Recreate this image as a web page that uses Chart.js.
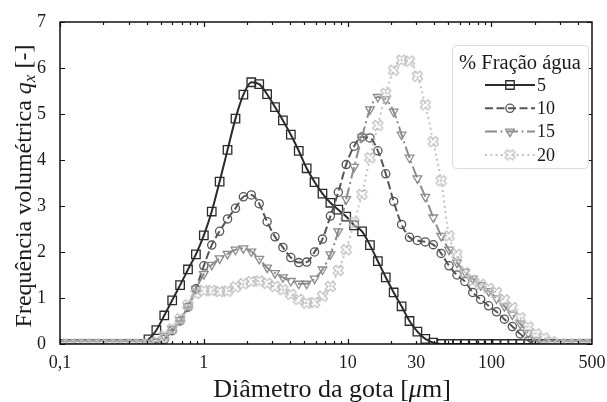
<!DOCTYPE html>
<html>
<head>
<meta charset="utf-8">
<script src="https://cdn.jsdelivr.net/npm/chart.js@4.4.0/dist/chart.umd.min.js"></script>
<style>
  body { margin: 0; background: #fff; }
  #wrap { width: 607px; height: 402px; }
</style>
</head>
<body>
<div id="wrap"><canvas id="grafico" width="607" height="402"></canvas></div>
<script>
// diâmetro da gota [µm]
const diametros = [0.1023, 0.1161, 0.1318, 0.1496, 0.1698, 0.1928, 0.2188, 0.2483, 0.2818, 0.3199,
    0.3631, 0.4121, 0.4677, 0.5309, 0.6026, 0.6839, 0.7762, 0.8810, 1.000, 1.135,
    1.288, 1.462, 1.660, 1.884, 2.138, 2.427, 2.754, 3.126, 3.548, 4.027,
    4.571, 5.188, 5.888, 6.683, 7.586, 8.610, 9.772, 11.09, 12.59, 14.29,
    16.22, 18.41, 20.89, 23.71, 26.92, 30.55, 34.67, 39.36, 44.67, 50.70,
    57.54, 65.31, 74.13, 84.14, 95.50, 108.4, 123.0, 139.6, 158.5, 179.9,
    204.2, 231.7, 263.0, 298.5, 338.8, 384.6, 436.5, 495.5];

// frequência volumétrica q_x por fração de água
const agua5 = [0, 0, 0, 0, 0, 0, 0, 0, 0, 0,
    0, 0.1, 0.3, 0.62, 0.95, 1.28, 1.62, 1.95, 2.36, 2.88,
    3.53, 4.22, 4.90, 5.42, 5.69, 5.65, 5.43, 5.15, 4.86, 4.55,
    4.2, 3.82, 3.52, 3.27, 3.07, 2.92, 2.77, 2.58, 2.45, 2.15,
    1.80, 1.45, 1.12, 0.82, 0.50, 0.27, 0.11, 0.03, 0, 0,
    0, 0, 0, 0, 0, 0, 0, 0, 0, 0,
    0, 0, 0, 0, 0, 0, 0, 0];
const agua10 = [0, 0, 0, 0, 0, 0, 0, 0, 0, 0,
    0, 0, 0.02, 0.1, 0.29, 0.5, 0.8, 1.2, 1.7, 2.15,
    2.45, 2.72, 2.95, 3.2, 3.24, 3.05, 2.66, 2.33, 2.10, 1.88,
    1.77, 1.78, 2.0, 2.28, 2.78, 3.3, 3.9, 4.3, 4.5, 4.48,
    4.2, 3.7, 3.1, 2.6, 2.32, 2.25, 2.22, 2.16, 1.97, 1.7,
    1.5, 1.36, 1.12, 0.97, 0.83, 0.70, 0.54, 0.38, 0.22, 0.07,
    0, 0, 0, 0, 0, 0, 0, 0];
const agua15 = [0, 0, 0, 0, 0, 0, 0, 0, 0, 0,
    0, 0, 0.05, 0.17, 0.33, 0.52, 0.82, 1.2, 1.52, 1.72,
    1.86, 1.96, 2.05, 2.08, 2.01, 1.85, 1.66, 1.54, 1.45, 1.37,
    1.31, 1.31, 1.42, 1.62, 1.95, 2.45, 3.15, 3.85, 4.5, 5.1,
    5.37, 5.32, 5.05, 4.55, 4.05, 3.6, 3.2, 2.75, 2.35, 2.05,
    1.77, 1.57, 1.42, 1.28, 1.15, 0.99, 0.82, 0.64, 0.44, 0.24,
    0.08, 0, 0, 0, 0, 0, 0, 0];
const agua20 = [0, 0, 0, 0, 0, 0, 0, 0, 0, 0,
    0, 0, 0.05, 0.18, 0.33, 0.55, 0.85, 1.1, 1.16, 1.16,
    1.14, 1.15, 1.24, 1.31, 1.36, 1.37, 1.32, 1.25, 1.18, 1.08,
    0.97, 0.89, 0.9, 1.04, 1.25, 1.6, 2.05, 2.65, 3.25, 4.05,
    4.75, 5.45, 5.95, 6.17, 6.15, 5.82, 5.2, 4.4, 3.55, 2.35,
    1.95, 1.55, 1.38, 1.3, 1.21, 1.12, 0.96, 0.79, 0.57, 0.37,
    0.22, 0.13, 0.05, 0, 0, 0, 0, 0];

const rotulosSerie = ["5", "10", "15", "20"];
const rotulosX = [0.1, 1, 10, 30, 100, 500];
const ticksMaioresX = [0.1, 1, 10, 100];
const ticksMenoresX = [0.2, 0.3, 0.4, 0.5, 0.6, 0.7, 0.8, 0.9, 2, 3, 4, 5, 6, 7, 8, 9,
    20, 30, 40, 50, 60, 70, 80, 90, 200, 300, 400];
const ticksY = [0, 1, 2, 3, 4, 5, 6, 7];

const SERIF = '"Liberation Serif", "DejaVu Serif", serif';

// marcador "X" vazado (como o 'X' do matplotlib)
function marcadorX(cor) {
    const c = document.createElement("canvas");
    c.width = 13; c.height = 13;
    const g = c.getContext("2d");
    g.translate(6.5, 6.5);
    g.rotate(Math.PI / 4);
    const w = 1.8, e = 5.4;
    const pts = [[-w, -e], [w, -e], [w, -w], [e, -w], [e, w], [w, w], [w, e], [-w, e], [-w, w], [-e, w], [-e, -w], [-w, -w]];
    g.beginPath();
    pts.forEach((p, i) => i ? g.lineTo(p[0], p[1]) : g.moveTo(p[0], p[1]));
    g.closePath();
    g.strokeStyle = cor;
    g.lineWidth = 1.3;
    g.stroke();
    return c;
}

const estilos = [
    { cor: "#2b2b2b", dash: [], ponto: "rect", raio: 6, rot: 0 },
    { cor: "#555555", dash: [8, 3.5], ponto: "circle", raio: 4.1, rot: 0 },
    { cor: "#8c8c8c", dash: [12, 3.5, 2, 3.5], ponto: "triangle", raio: 5, rot: 180 },
    { cor: "#c2c2c2", dash: [2, 3.3], ponto: marcadorX("#c2c2c2"), raio: 5, rot: 0 }
];
const series = [agua5, agua10, agua15, agua20];

const datasets = series.map((s, i) => ({
    label: rotulosSerie[i],
    data: s.map((v, j) => ({ x: diametros[j], y: v })),
    borderColor: estilos[i].cor,
    borderWidth: 2,
    borderDash: estilos[i].dash,
    pointStyle: estilos[i].ponto,
    pointRadius: estilos[i].raio,
    pointRotation: estilos[i].rot,
    pointBorderColor: estilos[i].cor,
    pointBackgroundColor: "transparent",
    pointBorderWidth: 1.3,
    cubicInterpolationMode: "monotone",
    order: 3 - i
}));

// moldura, ticks internos, títulos dos eixos e legenda
const extras = {
    id: "extras",
    afterDraw(chart) {
        const ctx = chart.ctx;
        const a = chart.chartArea;
        const sx = chart.scales.x, sy = chart.scales.y;
        ctx.save();
        ctx.strokeStyle = "#111";
        ctx.lineWidth = 1.2;
        ctx.beginPath();
        ticksMaioresX.forEach(v => {
            const px = Math.round(sx.getPixelForValue(v)) + 0.5;
            ctx.moveTo(px, a.bottom); ctx.lineTo(px, a.bottom - 5);
            ctx.moveTo(px, a.top); ctx.lineTo(px, a.top + 5);
        });
        ticksMenoresX.forEach(v => {
            const px = Math.round(sx.getPixelForValue(v)) + 0.5;
            ctx.moveTo(px, a.bottom); ctx.lineTo(px, a.bottom - 3);
            ctx.moveTo(px, a.top); ctx.lineTo(px, a.top + 3);
        });
        ticksY.forEach(v => {
            const py = Math.round(sy.getPixelForValue(v)) + 0.5;
            ctx.moveTo(a.left, py); ctx.lineTo(a.left + 5, py);
            ctx.moveTo(a.right, py); ctx.lineTo(a.right - 5, py);
        });
        ctx.stroke();
        ctx.lineWidth = 1.5;
        ctx.strokeRect(a.left, a.top, a.right - a.left, a.bottom - a.top);

        // título eixo y
        ctx.fillStyle = "#1a1a1a";
        ctx.textBaseline = "alphabetic";
        const fN = "24px " + SERIF, fI = "italic 24px " + SERIF, fS = "italic 17px " + SERIF;
        const partesY = [["Frequência volumétrica ", fN, 0], ["q", fI, 0], ["x", fS, 4], [" [-]", fN, 0]];
        let total = 0;
        partesY.forEach(p => { ctx.font = p[1]; total += ctx.measureText(p[0]).width; });
        ctx.save();
        ctx.translate(31, (a.top + a.bottom) / 2 + 3);
        ctx.rotate(-Math.PI / 2);
        let cx = -total / 2;
        partesY.forEach(p => { ctx.font = p[1]; ctx.fillText(p[0], cx, p[2]); cx += ctx.measureText(p[0]).width; });
        ctx.restore();

        // título eixo x
        const fNx = "26px " + SERIF, fIx = "italic 26px " + SERIF;
        const partesX = [["Diâmetro da gota [", fNx], ["μ", fIx], ["m]", fNx]];
        total = 0;
        partesX.forEach(p => { ctx.font = p[1]; total += ctx.measureText(p[0]).width; });
        cx = (a.left + a.right) / 2 + 6 - total / 2;
        partesX.forEach(p => { ctx.font = p[1]; ctx.fillText(p[0], cx, 397); cx += ctx.measureText(p[0]).width; });

        // legenda
        const lx = 452, ly = 45, lw = 136, lh = 123;
        ctx.beginPath();
        ctx.roundRect(lx + 0.5, ly + 0.5, lw, lh, 4);
        ctx.fillStyle = "rgba(255,255,255,0.85)";
        ctx.fill();
        ctx.strokeStyle = "#dcdcdc";
        ctx.lineWidth = 1;
        ctx.stroke();
        ctx.fillStyle = "#1a1a1a";
        ctx.font = "20.5px " + SERIF;
        ctx.textAlign = "center";
        ctx.fillText("% Fração água", lx + lw / 2, 69);
        ctx.textAlign = "left";
        ctx.textBaseline = "middle";
        estilos.forEach((e, i) => {
            const yy = 85 + i * 23.3;
            ctx.strokeStyle = e.cor;
            ctx.lineWidth = 2;
            ctx.setLineDash(e.dash);
            ctx.beginPath();
            ctx.moveTo(485, yy); ctx.lineTo(535, yy);
            ctx.stroke();
            ctx.setLineDash([]);
            ctx.lineWidth = 1.3;
            ctx.beginPath();
            if (e.ponto === "rect") {
                const s = e.raio * Math.SQRT1_2;
                ctx.rect(510 - s, yy - s, 2 * s, 2 * s);
            } else if (e.ponto === "circle") {
                ctx.arc(510, yy, e.raio, 0, Math.PI * 2);
            } else if (e.ponto === "triangle") {
                ctx.moveTo(510 - e.raio * 0.866, yy - e.raio * 0.5);
                ctx.lineTo(510 + e.raio * 0.866, yy - e.raio * 0.5);
                ctx.lineTo(510, yy + e.raio);
                ctx.closePath();
            }
            ctx.stroke();
            if (typeof e.ponto !== "string") ctx.drawImage(e.ponto, 503.5, yy - 6.5);
            ctx.fillStyle = "#1a1a1a";
            ctx.font = "18px " + SERIF;
            ctx.fillText(rotulosSerie[i], 537, yy + 1);
        });
        ctx.restore();
    }
};

new Chart(document.getElementById("grafico"), {
    type: "line",
    data: { datasets },
    options: {
        responsive: false,
        devicePixelRatio: 1,
        animation: false,
        layout: { padding: { top: 22, right: 15, left: 0, bottom: 0 } },
        plugins: { legend: { display: false }, tooltip: { enabled: false } },
        scales: {
            x: {
                type: "logarithmic",
                min: 0.1,
                max: 500,
                grid: { display: false },
                border: { display: false },
                afterBuildTicks: s => { s.ticks = rotulosX.map(v => ({ value: v })); },
                afterFit: s => { s.height = 58; },
                ticks: {
                    autoSkip: false,
                    maxRotation: 0,
                    padding: 0,
                    color: "#1a1a1a",
                    font: { family: SERIF, size: 18 },
                    callback: v => String(v).replace(".", ",")
                }
            },
            y: {
                min: 0,
                max: 7,
                grid: { display: false },
                border: { display: false },
                afterBuildTicks: s => { s.ticks = ticksY.map(v => ({ value: v })); },
                afterFit: s => { s.width = 60; },
                ticks: {
                    padding: 6,
                    color: "#1a1a1a",
                    font: { family: SERIF, size: 18 }
                }
            }
        }
    },
    plugins: [extras]
});
</script>
</body>
</html>
